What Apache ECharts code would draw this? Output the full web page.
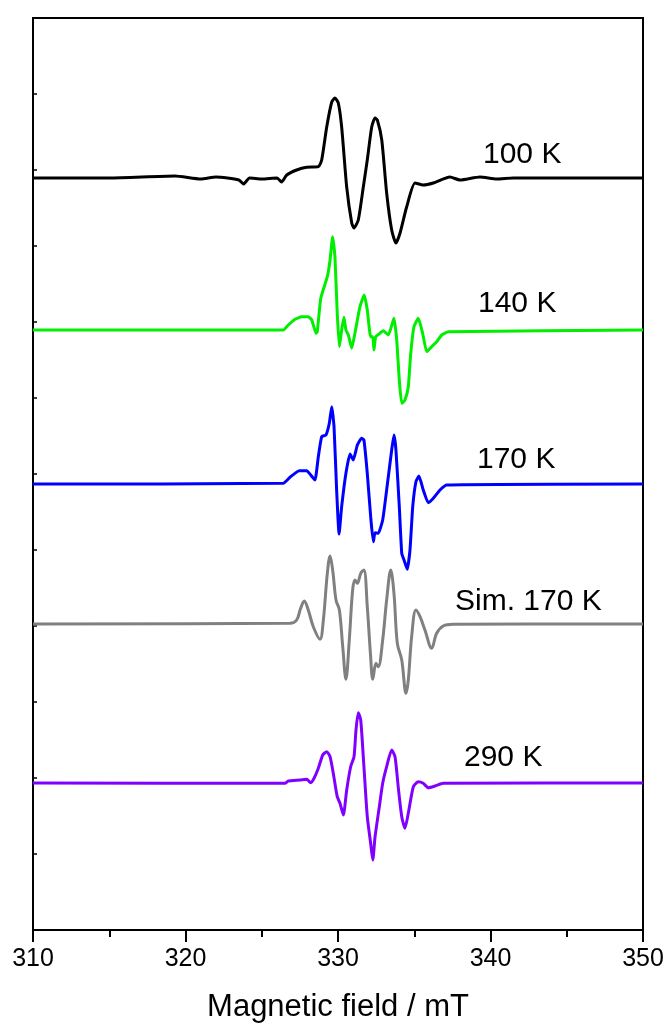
<!DOCTYPE html>
<html lang="en">
<head>
    <meta charset="UTF-8">
    <title>EPR spectra</title>
    <script src="https://cdn.jsdelivr.net/npm/echarts@6/dist/echarts.min.js"></script>
    <style>
        body{ margin:0; background:#fff; }
        #epr{ width:667px; height:1025px; }
    </style>
</head>
<body>
<div id="epr"></div>
<script type="text/javascript">
    // field axis (mT)
    var xTicks = [310, 320, 330, 340, 350];

    // 100 K
    var field100 = [310, 315, 319.3, 321, 322, 323.5, 323.8, 324.2, 325, 326, 326.3, 326.64, 327.29, 327.95, 328.71, 328.93, 329.26, 329.59, 329.8, 330.02, 330.24, 330.57, 330.9, 331.05, 331.33, 331.66, 331.92, 332.21, 332.43, 332.58, 332.87, 333.19, 333.52, 333.8, 334.07, 334.5, 335.05, 335.59, 336.25, 337.34, 338, 339.31, 340.41, 341.48, 343.25, 350];
    var sig100 = [752, 752, 754, 751, 753, 750, 746, 752, 751, 752, 748, 755, 760, 762.7, 763.3, 770, 803, 828, 832, 827, 803, 743, 707, 702, 710, 743, 770, 803, 812, 810, 790, 737, 700, 687, 697, 723, 747, 745, 747, 753, 750, 753, 751, 752, 752, 752];

    // 140 K
    var field140 = [310, 326.41, 326.74, 327.18, 327.62, 328.05, 328.28, 328.56, 328.64, 328.87, 329.3, 329.48, 329.65, 329.8, 329.95, 330.09, 330.24, 330.39, 330.52, 330.68, 330.9, 331.11, 331.44, 331.72, 331.92, 332.14, 332.28, 332.36, 332.47, 332.75, 332.97, 333.3, 333.67, 333.85, 334.02, 334.18, 334.39, 334.61, 334.77, 334.98, 335.27, 335.55, 335.82, 336.14, 336.47, 336.8, 337.23, 350];
    var sig140 = [600, 600, 605, 610.7, 613.3, 613.3, 610, 596.7, 598.3, 631.7, 653.3, 670, 693.3, 673.3, 616.7, 583.3, 600, 612.7, 600, 595, 581.7, 596.7, 623.3, 635, 620, 593.3, 593.3, 580, 593.3, 596.7, 599.3, 595, 611.7, 590, 550, 526.7, 530, 543.3, 576.7, 603.3, 611.7, 596.7, 578.3, 583.3, 588.3, 595, 598.3, 600];

    // 170 K
    var field170 = [310, 326.41, 326.85, 327.46, 327.95, 328.21, 328.49, 328.71, 328.93, 329.21, 329.43, 329.59, 329.74, 329.91, 330.07, 330.24, 330.52, 330.79, 331, 331.27, 331.55, 331.7, 331.92, 332.16, 332.32, 332.43, 332.64, 332.93, 333.19, 333.52, 333.67, 333.8, 334.02, 334.18, 334.33, 334.54, 334.72, 334.9, 335.11, 335.31, 335.59, 335.92, 336.25, 336.69, 337.13, 350];
    var sig170 = [446, 446.7, 452.7, 459.3, 459.3, 455, 450, 473.3, 493.3, 495, 506.7, 523.3, 503.3, 440, 396, 423.3, 456.7, 476, 470, 485, 491.7, 490, 456.7, 410, 388.3, 397.3, 396.7, 410, 440, 480, 495, 480, 423.3, 376.7, 370, 360.7, 380, 423.3, 448.3, 454, 440, 427.3, 431.7, 440, 445, 446];

    // Sim. 170 K
    var fieldSim = [310, 326.85, 327.29, 327.55, 327.79, 328.05, 328.38, 328.82, 329.04, 329.3, 329.48, 329.65, 329.87, 330.09, 330.31, 330.52, 330.74, 330.96, 331.11, 331.27, 331.49, 331.7, 331.92, 332.14, 332.28, 332.49, 332.64, 332.93, 333.19, 333.46, 333.67, 333.89, 334.18, 334.46, 334.61, 334.83, 335.11, 335.38, 335.7, 336.14, 336.47, 336.9, 337.56, 350];
    var sigSim = [306, 306.7, 310, 321.7, 329, 320, 303.3, 290.7, 310, 356.7, 374, 360, 330, 320, 283.3, 250.7, 290, 340, 350, 346.7, 356.7, 360, 323.3, 273.3, 250.7, 266.7, 263.3, 290, 330, 360, 336.7, 286.7, 270, 236.7, 250, 293.3, 320, 313.3, 300, 281.7, 296.7, 304, 305.7, 306];

    // 290 K
    var field290 = [310, 326.52, 326.74, 327.51, 327.95, 328.21, 328.43, 328.71, 329, 329.26, 329.48, 329.69, 329.95, 330.13, 330.35, 330.57, 330.83, 331.05, 331.18, 331.33, 331.49, 331.7, 331.92, 332.14, 332.28, 332.43, 332.71, 332.93, 333.19, 333.52, 333.74, 333.97, 334.18, 334.39, 334.61, 334.94, 335.27, 335.59, 335.92, 336.36, 336.9, 350];
    var sig290 = [147, 146.7, 149, 150, 150.7, 147.3, 151.7, 161.7, 175, 178.3, 173.3, 156.7, 133.3, 126.7, 115, 140, 163.3, 173.3, 200, 217.3, 210, 163.3, 113.3, 86.7, 70, 93.3, 123.3, 146.7, 163.3, 180, 173.3, 140, 113.3, 101.7, 116.7, 143.3, 148.3, 146.7, 142.3, 144, 146.7, 147];

    var labels = ['100 K', '140 K', '170 K', 'Sim. 170 K', '290 K'];

    function pairs(xs, ys){
        return xs.map(function(x, i){ return [x, ys[i]]; });
    }

    function spectrum(name, xs, ys, color, smooth){
        return {
            name: name,
            type: 'line',
            data: pairs(xs, ys),
            showSymbol: false,
            smooth: smooth,
            lineStyle: { color: color, width: 3 },
            itemStyle: { color: color },
            z: 3
        };
    }

    function tag(text, left, top){
        return {
            type: 'text', left: left, top: top,
            style: { text: text, fontSize: 30, fill: '#000', fontFamily: font }
        };
    }

    var chart = echarts.init(document.getElementById('epr'));

    var font = 'Liberation Sans, Arial, sans-serif';

    var option = {
        animation: false,
        backgroundColor: '#fff',
        grid: {
            left: 33, right: 24, top: 18, bottom: 95,
            outerBoundsMode: 'none',
            show: true, borderColor: '#000', borderWidth: 2
        },
        xAxis: {
            type: 'value',
            min: xTicks[0],
            max: xTicks[xTicks.length - 1],
            interval: 10,
            name: 'Magnetic field / mT',
            nameLocation: 'middle',
            nameGap: 62,
            nameTextStyle: { fontSize: 31, color: '#000', fontFamily: font },
            axisLine: { lineStyle: { color: '#000', width: 2 } },
            axisTick: { show: true, inside: false, length: 12, lineStyle: { color: '#000', width: 2 } },
            minorTick: { show: true, splitNumber: 2, length: 7, lineStyle: { color: '#000', width: 2 } },
            axisLabel: { fontSize: 25, color: '#000', margin: 17, fontFamily: font },
            splitLine: { show: false }
        },
        yAxis: {
            type: 'value',
            min: 0,
            max: 912,
            interval: 76,
            axisLine: { show: true, lineStyle: { color: '#000', width: 2 } },
            axisTick: { show: true, inside: true, length: 4, lineStyle: { color: '#000', width: 1.5 } },
            axisLabel: { show: false },
            splitLine: { show: false }
        },
        graphic: [
            tag(labels[0], 483, 140),
            tag(labels[1], 478, 289),
            tag(labels[2], 477, 445),
            tag(labels[3], 455, 587),
            tag(labels[4], 464, 743)
        ],
        series: [
            spectrum(labels[0], field100, sig100, '#000000', 0.2),
            spectrum(labels[1], field140, sig140, '#00ee00', 0.15),
            spectrum(labels[2], field170, sig170, '#0000ff', 0.15),
            spectrum(labels[3], fieldSim, sigSim, '#808080', 0.35),
            spectrum(labels[4], field290, sig290, '#8000ff', 0.2)
        ]
    };

    chart.setOption(option);
</script>
</body>
</html>
